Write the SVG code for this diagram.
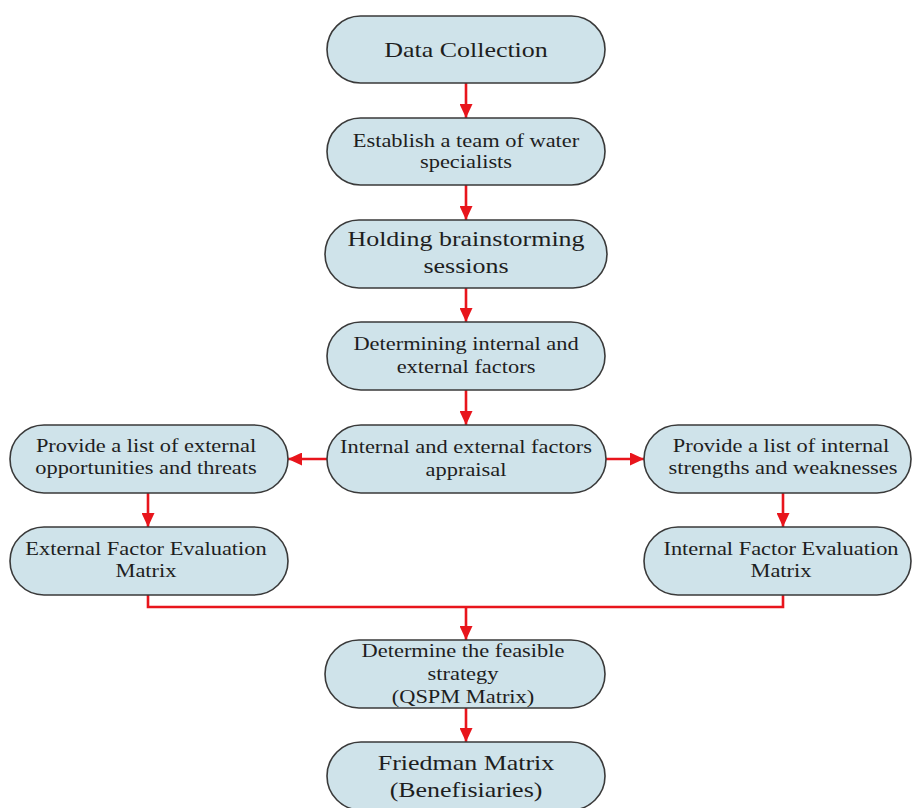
<svg xmlns="http://www.w3.org/2000/svg" width="913" height="808" viewBox="0 0 913 808">
<style>
.box{fill:#cfe3ea;stroke:#3a3a3a;stroke-width:1.6}
.t{font-family:"Liberation Serif","Times New Roman",serif;fill:#1e1e1e;text-anchor:middle;font-size:19px}
.big{font-size:22px}
.c{fill:none;stroke:#e8151c;stroke-width:2.6}
</style>
<defs>
<marker id="ah" markerUnits="userSpaceOnUse" markerWidth="14" markerHeight="13" refX="14" refY="6.5" orient="auto">
<path d="M0,0 L14,6.5 L0,13 z" fill="#e8151c"/>
</marker>
</defs>
<rect width="913" height="808" fill="#ffffff"/>
<g id="connectors">
<line class="c" x1="466" y1="83" x2="466" y2="118" marker-end="url(#ah)"/>
<line class="c" x1="466" y1="185" x2="466" y2="220" marker-end="url(#ah)"/>
<line class="c" x1="466" y1="288" x2="466" y2="322" marker-end="url(#ah)"/>
<line class="c" x1="466" y1="390" x2="466" y2="425" marker-end="url(#ah)"/>
<line class="c" x1="327" y1="459" x2="288" y2="459" marker-end="url(#ah)"/>
<line class="c" x1="606" y1="459" x2="644" y2="459" marker-end="url(#ah)"/>
<line class="c" x1="148" y1="493" x2="148" y2="527" marker-end="url(#ah)"/>
<line class="c" x1="783" y1="493" x2="783" y2="527" marker-end="url(#ah)"/>
<polyline class="c" points="148,595 148,607 783,607 783,595"/>
<line class="c" x1="466" y1="607" x2="466" y2="640" marker-end="url(#ah)"/>
<line class="c" x1="466" y1="708" x2="466" y2="742" marker-end="url(#ah)"/>
</g>
<g id="data-collection">
<rect class="box" x="327" y="16" width="278" height="67" rx="33.5"/>
<text class="t big" transform="translate(466,57) scale(1.18,1)">Data Collection</text>
</g>
<g id="establish-team">
<rect class="box" x="327" y="118" width="278" height="67" rx="33.5"/>
<text class="t" transform="translate(466,147) scale(1.18,1)">Establish a team of water</text>
<text class="t" transform="translate(466,168) scale(1.18,1)">specialists</text>
</g>
<g id="brainstorming">
<rect class="box" x="325" y="220" width="282" height="68" rx="34"/>
<text class="t big" transform="translate(466,246) scale(1.18,1)">Holding brainstorming</text>
<text class="t big" transform="translate(466,273) scale(1.18,1)">sessions</text>
</g>
<g id="determining-factors">
<rect class="box" x="327" y="322" width="278" height="68" rx="34"/>
<text class="t" transform="translate(466,350) scale(1.18,1)">Determining internal and</text>
<text class="t" transform="translate(466,373) scale(1.18,1)">external factors</text>
</g>
<g id="factors-appraisal">
<rect class="box" x="327" y="425" width="279" height="68" rx="34"/>
<text class="t" transform="translate(466,453) scale(1.18,1)">Internal and external factors</text>
<text class="t" transform="translate(466,476) scale(1.18,1)">appraisal</text>
</g>
<g id="external-list">
<rect class="box" x="10" y="425" width="278" height="68" rx="34"/>
<text class="t" transform="translate(146,452) scale(1.18,1)">Provide a list of external</text>
<text class="t" transform="translate(146,474) scale(1.18,1)">opportunities and threats</text>
</g>
<g id="efe-matrix">
<rect class="box" x="10" y="527" width="278" height="68" rx="34"/>
<text class="t" transform="translate(146,555) scale(1.18,1)">External Factor Evaluation</text>
<text class="t" transform="translate(146,577) scale(1.18,1)">Matrix</text>
</g>
<g id="internal-list">
<rect class="box" x="644" y="425" width="267" height="68" rx="34"/>
<text class="t" transform="translate(781,452) scale(1.18,1)">Provide a list of internal</text>
<text class="t" transform="translate(783,474) scale(1.18,1)">strengths and weaknesses</text>
</g>
<g id="ife-matrix">
<rect class="box" x="644" y="527" width="267" height="68" rx="34"/>
<text class="t" transform="translate(781,555) scale(1.18,1)">Internal Factor Evaluation</text>
<text class="t" transform="translate(781,577) scale(1.18,1)">Matrix</text>
</g>
<g id="qspm">
<rect class="box" x="325" y="640" width="280" height="68" rx="34"/>
<text class="t" transform="translate(463,657) scale(1.18,1)">Determine the feasible</text>
<text class="t" transform="translate(463,680) scale(1.18,1)">strategy</text>
<text class="t" transform="translate(463,703) scale(1.18,1)">(QSPM Matrix)</text>
</g>
<g id="friedman">
<rect class="box" x="327" y="742" width="278" height="68" rx="34"/>
<text class="t big" transform="translate(466,770) scale(1.18,1)">Friedman Matrix</text>
<text class="t big" transform="translate(466,797) scale(1.18,1)">(Benefisiaries)</text>
</g>
</svg>
